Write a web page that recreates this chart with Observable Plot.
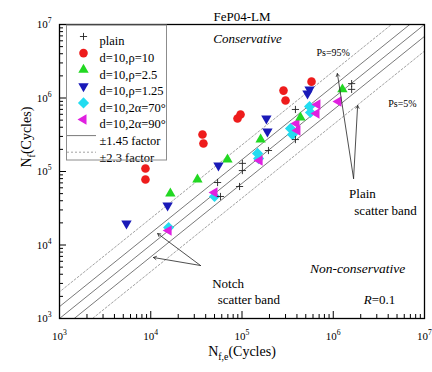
<!DOCTYPE html>
<html><head><meta charset="utf-8">
<script src="https://cdn.jsdelivr.net/npm/d3@7"></script>
<script src="https://cdn.jsdelivr.net/npm/@observablehq/plot@0.6"></script>
<style>body{margin:0;background:#fff}</style>
</head><body><div id="chart"></div>
<script>
// ---- data ----
const plainX = [54000, 58100, 94000, 101000, 101000, 195000, 385000, 385000, 1590000, 1590000];
const plainY = [70800, 45700, 62500, 129000, 103000, 193000, 698000, 272000, 1570000, 1310000];
const rho10X = [8750, 8750, 36900, 37800, 89300, 96400, 285000, 300000, 578000];
const rho10Y = [110000, 77800, 318000, 240000, 526000, 597000, 1260000, 925000, 1670000];
const rho25X = [16400, 32500, 69300, 160000, 437000, 1260000];
const rho25Y = [50200, 77800, 146000, 272000, 543000, 1310000];
const rho125X = [5420, 15300, 55200, 185000, 190000, 522000, 550000];
const rho125Y = [19600, 34400, 121000, 526000, 350000, 1150000, 1310000];
const a70X = [15700, 50000, 148000, 152000, 340000, 357000, 550000, 563000];
const a70Y = [17300, 45700, 176000, 150000, 385000, 318000, 766000, 635000];
const a90X = [15700, 50000, 156000, 395000, 405000, 671000, 655000, 1140000];
const a90Y = [15700, 51800, 141000, 450000, 361000, 817000, 615000, 896000];

const seriesLabels = ["plain", "d=10,ρ=10", "d=10,ρ=2.5", "d=10,ρ=1.25", "d=10,2α=70°", "d=10,2α=90°"];
const lineLabels = ["±1.45 factor", "±2.3 factor"];
const decades = [1e3, 1e4, 1e5, 1e6, 1e7];
const minorMult = [2, 3, 4, 5, 6, 7, 8, 9];
const solidFactors = [1, 1.45, 1 / 1.45];
const dashedFactors = [2.3, 1 / 2.3];

// annotations (centred): [text, x, y, size, italic]
const notes = [
  ["Conservative", 115000, 6.46e6, 13, true],
  ["Ps=95%", 1.0e6, 4.16e6, 10, false],
  ["Ps=5%", 5.74e6, 8.41e5, 10, false],
  ["Plain", 2.09e6, 50100, 13, false],
  ["scatter band", 3.74e6, 29400, 13, false],
  ["Non-conservative", 1.85e6, 4790, 13.5, true],
  ["Notch", 70300, 2990, 13, false],
  ["scatter band", 119000, 1815, 13, false],
  ["*R*=0.1", 3.21e6, 1815, 13, false]
];
// arrows: [x1,y1,x2,y2]
const arrows = [
  [1.67e6, 80400, 1.11e6, 2.15e6],
  [1.67e6, 80400, 1.85e6, 7.91e5],
  [35100, 5260, 11900, 14300],
  [35100, 5260, 10700, 6760]
];

const FONT = "'Liberation Serif', 'Times New Roman', 'DejaVu Serif', serif";

// ---- symbols ----
const triUp = {draw(c, s){const w=Math.sqrt(s)*1.3,h=w*0.866;c.moveTo(0,-2*h/3);c.lineTo(w/2,h/3);c.lineTo(-w/2,h/3);c.closePath();}};
const triDown = {draw(c, s){const w=Math.sqrt(s)*1.3,h=w*0.866;c.moveTo(0,2*h/3);c.lineTo(w/2,-h/3);c.lineTo(-w/2,-h/3);c.closePath();}};
const triLeft = {draw(c, s){const w=Math.sqrt(s)*1.3,h=w*0.866;c.moveTo(-2*h/3,0);c.lineTo(h/3,-w/2);c.lineTo(h/3,w/2);c.closePath();}};
const diam = {draw(c, s){const r=Math.sqrt(s)*0.7;c.moveTo(0,-r);c.lineTo(r,0);c.lineTo(0,r);c.lineTo(-r,0);c.closePath();}};
const plus = {draw(c, s){const r=Math.sqrt(s)*0.45;c.moveTo(-r,0);c.lineTo(r,0);c.moveTo(0,-r);c.lineTo(0,r);}};

const styles = [
  {X: plainX, Y: plainY, symbol: plus, stroke: "#222", fill: "none", r: 4.5},
  {X: rho10X, Y: rho10Y, symbol: "circle", fill: "#ee1c1c", r: 4.3},
  {X: rho25X, Y: rho25Y, symbol: triUp, fill: "#22d822", r: 4.5},
  {X: rho125X, Y: rho125Y, symbol: triDown, fill: "#1a1ab8", r: 4.5},
  {X: a70X, Y: a70Y, symbol: diam, fill: "#22dcf0", r: 4.5},
  {X: a90X, Y: a90Y, symbol: triLeft, fill: "#e020e0", r: 4.5}
];

const mk = (arrX, arrY) => arrX.map((x, i) => ({x, y: arrY[i]}));
const lineData = fs => fs.flatMap(f => [{x: 100, y: 100 * f, f}, {x: 1e8, y: 1e8 * f, f}]);
const minors = decades.slice(0, -1).flatMap(d => minorMult.map(m => m * d));
const FW = 365, FH = 294;

const pointMarks = [4, 5, 2, 3, 1, 0].map(i => {
  const s = styles[i];
  return Plot.dot(mk(s.X, s.Y), {x: "x", y: "y", symbol: () => s.symbol, r: s.r,
    fill: s.fill, stroke: s.stroke ?? "none", strokeWidth: 0.9});
});

const legendMarks = [];
styles.forEach((s, i) => {
  legendMarks.push(Plot.dot([0], {frameAnchor: "top-left", dx: 24, dy: 12 + i * 16.6,
    symbol: () => s.symbol, r: s.r, fill: s.fill, stroke: s.stroke ?? "none", strokeWidth: 0.9}));
  legendMarks.push(Plot.text([seriesLabels[i]], {frameAnchor: "top-left", dx: 40, dy: 12 + i * 16.6,
    text: d => d, textAnchor: "start", fontSize: 12.5, fontFamily: FONT}));
});
lineLabels.forEach((l, j) => {
  legendMarks.push(Plot.text([l], {frameAnchor: "top-left", dx: 40, dy: 12 + (6 + j) * 16.6,
    text: d => d, textAnchor: "start", fontSize: 12.5, fontFamily: FONT}));
});

const noteMark = (arr, italic) => Plot.text(arr, {x: d => d[1], y: d => d[2], text: d => d[0],
  fontSize: d => d[3], fontFamily: FONT, fontStyle: italic ? "italic" : "normal"});

const chart = Plot.plot({
  width: 432, height: 372,
  marginLeft: 59, marginRight: 8, marginTop: 24, marginBottom: 54,
  style: {fontFamily: FONT, background: "white", color: "black"},
  x: {type: "log", domain: [1e3, 1e7]},
  y: {type: "log", domain: [1e3, 1e7]},
  marks: [
    Plot.line(lineData(dashedFactors), {x: "x", y: "y", z: "f", stroke: "#8a8a8a", strokeWidth: 0.8, strokeDasharray: "2,2", clip: true}),
    Plot.line(lineData(solidFactors), {x: "x", y: "y", z: "f", stroke: "#6a6a6a", strokeWidth: 0.9, clip: true}),
    ...legendMarks,
    ...pointMarks,
    Plot.arrow(arrows, {x1: d => d[0], y1: d => d[1], x2: d => d[2], y2: d => d[3], stroke: "#222", strokeWidth: 0.8, headLength: 6}),
    noteMark(notes.filter(d => d[4]), true),
    noteMark(notes.filter(d => !d[4]), false),
    Plot.tickX(decades, {x: d => d, stroke: "black", insetTop: FH - 7}),
    Plot.tickX(minors, {x: d => d, stroke: "black", insetTop: FH - 4}),
    Plot.tickY(decades, {y: d => d, stroke: "black", insetRight: FW - 7}),
    Plot.tickY(minors, {y: d => d, stroke: "black", insetRight: FW - 4}),
    Plot.axisX({ticks: decades, tickSize: 0, tickPadding: 14, fontSize: 11, label: null, fontFamily: FONT,
      tickFormat: d => `10^{${Math.round(Math.log10(d))}}`}),
    Plot.axisY({ticks: decades, tickSize: 0, tickPadding: 8, fontSize: 11, label: null, fontFamily: FONT,
      tickFormat: d => `10^{${Math.round(Math.log10(d))}}`}),
    Plot.frame({stroke: "black", strokeWidth: 1.3}),
    Plot.text(["FeP04-LM"], {frameAnchor: "top", dy: -13, text: d => d, fontSize: 13, fontFamily: FONT}),
    Plot.text(["N_{f,e}(Cycles)"], {frameAnchor: "bottom", dy: 37, text: d => d, fontSize: 14, fontFamily: FONT}),
    Plot.text(["N_{f}(Cycles)"], {frameAnchor: "left", dx: -33, dy: -4, rotate: -90, text: d => d, fontSize: 14, fontFamily: FONT})
  ]
});
document.getElementById("chart").appendChild(chart);

// legend box and line samples
const svg = d3.select(chart);
svg.append("rect").attr("x", 66.5).attr("y", 25).attr("width", 100).attr("height", 135)
  .attr("fill", "none").attr("stroke", "#8c8c8c").attr("stroke-width", 1);
[[135.6, null], [152.2, "2,2"]].forEach(([yy, dash]) => {
  const l = svg.append("line").attr("x1", 67).attr("x2", 96).attr("y1", yy).attr("y2", yy)
    .attr("stroke", dash ? "#8a8a8a" : "#6a6a6a").attr("stroke-width", dash ? 0.8 : 0.9);
  if (dash) l.attr("stroke-dasharray", dash);
});

// rich text: sub/superscripts and italics
const NS = "http://www.w3.org/2000/svg";
chart.querySelectorAll("text").forEach(t => {
  if (t.children.length) return;
  const s = t.textContent;
  if (!/[_^]\{|\*/.test(s)) return;
  const parts = s.split(/([_^]\{[^}]*\}|\*[^*]+\*)/).filter(p => p !== "");
  t.textContent = "";
  let pend = 0;
  for (const p of parts) {
    const ts = document.createElementNS(NS, "tspan");
    if (p[0] === "_" || p[0] === "^") {
      const d = p[0] === "_" ? 4 : -5;
      ts.textContent = p.slice(2, -1);
      ts.setAttribute("dy", d + pend);
      ts.setAttribute("font-size", "70%");
      pend = -d;
    } else if (p[0] === "*") {
      ts.textContent = p.slice(1, -1);
      ts.setAttribute("font-style", "italic");
      if (pend) ts.setAttribute("dy", pend);
      pend = 0;
    } else {
      ts.textContent = p;
      if (pend) ts.setAttribute("dy", pend);
      pend = 0;
    }
    t.appendChild(ts);
  }
});
</script>
</body></html>
